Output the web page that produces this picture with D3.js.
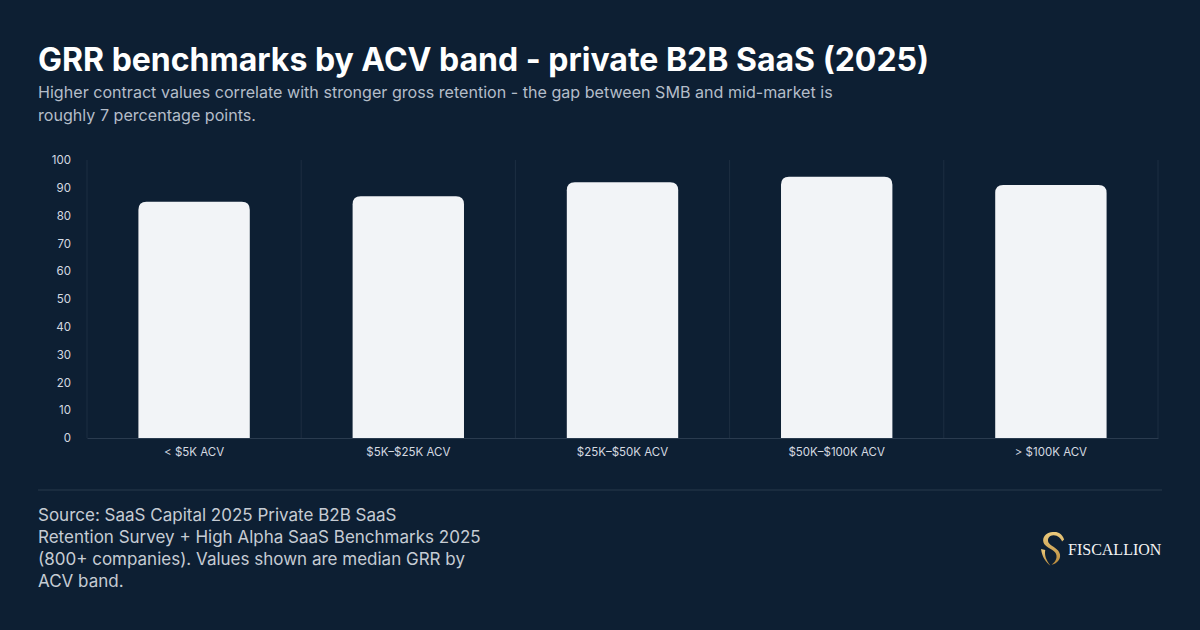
<!DOCTYPE html>
<html>
<head>
<meta charset="utf-8">
<script src="https://cdn.jsdelivr.net/npm/d3@7"></script>
<style>
  html, body { margin: 0; padding: 0; background: #0d1f33; }
  svg { display: block; font-family: Inter, "Noto Sans", sans-serif; }
</style>
</head>
<body>
<svg id="chart" width="1200" height="630"></svg>
<script>
// data
var bands = ["< $5K ACV", "$5K\u2013$25K ACV", "$25K\u2013$50K ACV", "$50K\u2013$100K ACV", "> $100K ACV"];
var grr = [85, 87, 92, 94, 91];
var yTicks = [0, 10, 20, 30, 40, 50, 60, 70, 80, 90, 100];

var title = "GRR benchmarks by ACV band - private B2B SaaS (2025)";
var subtitle = ["Higher contract values correlate with stronger gross retention - the gap between SMB and mid-market is",
                "roughly 7 percentage points."];
var source = ["Source: SaaS Capital 2025 Private B2B SaaS",
              "Retention Survey + High Alpha SaaS Benchmarks 2025",
              "(800+ companies). Values shown are median GRR by",
              "ACV band."];

var svg = d3.select("#chart");
var W = 1200, H = 630;

svg.append("rect").attr("width", W).attr("height", H).attr("fill", "#0d1f33");

// header
svg.append("text")
  .attr("x", 38).attr("y", 71)
  .attr("fill", "#ffffff")
  .attr("font-size", 32).attr("font-weight", 700)
  .text(title);

svg.selectAll("text.sub").data(subtitle).enter().append("text")
  .attr("class", "sub")
  .attr("x", 38).attr("y", function(d, i) { return 98 + i * 23; })
  .attr("fill", "#b4bdc9")
  .attr("font-size", 16.1)
  .text(function(d) { return d; });

// plot area
var plotL = 87, plotR = 1158, plotT = 160, plotB = 438;

var x = d3.scaleBand().domain(bands).range([plotL, plotR]).paddingInner(0.48).paddingOuter(0.24);
var y = d3.scaleLinear().domain([0, 100]).range([plotB, plotT]);

var g = svg.append("g");

// vertical separators between bands
var seps = d3.range(bands.length + 1).map(function(i) { return plotL + i * (plotR - plotL) / bands.length; });
g.selectAll("line.sep").data(seps).enter().append("line")
  .attr("class", "sep")
  .attr("x1", function(d) { return d; }).attr("x2", function(d) { return d; })
  .attr("y1", plotT).attr("y2", plotB)
  .attr("stroke", "#1d2e42").attr("stroke-width", 1);

// y axis
var yAxis = g.append("g")
  .attr("transform", "translate(" + plotL + ",0)")
  .call(d3.axisLeft(y).tickValues(yTicks).tickSize(0).tickPadding(16));
yAxis.select(".domain").remove();
yAxis.selectAll("text").attr("fill", "#d5dae1").attr("font-size", 11.5).attr("font-family", "Inter, sans-serif");

// bars with rounded tops
var r = 8;
function barPath(d, i) {
  var x0 = x(bands[i]), w = x.bandwidth(), y0 = y(d), y1 = y(0);
  return "M" + x0 + "," + y1 +
    "V" + (y0 + r) +
    "Q" + x0 + "," + y0 + " " + (x0 + r) + "," + y0 +
    "H" + (x0 + w - r) +
    "Q" + (x0 + w) + "," + y0 + " " + (x0 + w) + "," + (y0 + r) +
    "V" + y1 + "Z";
}
g.selectAll("path.bar").data(grr).enter().append("path")
  .attr("class", "bar")
  .attr("d", barPath)
  .attr("fill", "#f2f4f7");

// x axis
var xAxis = g.append("g")
  .attr("transform", "translate(0," + plotB + ")")
  .call(d3.axisBottom(x).tickSize(0).tickPadding(10));
xAxis.select(".domain").attr("stroke", "#2a3b4f");
xAxis.selectAll("text").attr("fill", "#d5dae1").attr("font-size", 11.5).attr("font-family", "Inter, sans-serif");

// footer
svg.append("line")
  .attr("x1", 38).attr("x2", 1162).attr("y1", 490).attr("y2", 490)
  .attr("stroke", "#1f3245").attr("stroke-width", 1.5);

svg.selectAll("text.src").data(source).enter().append("text")
  .attr("class", "src")
  .attr("x", 38).attr("y", function(d, i) { return 521 + i * 22; })
  .attr("fill", "#c6ccd4")
  .attr("font-size", 17)
  .text(function(d) { return d; });

// logo
var grad = svg.append("defs").append("linearGradient").attr("id", "gold")
  .attr("x1", 0).attr("y1", 0).attr("x2", 0).attr("y2", 1);
grad.append("stop").attr("offset", 0).attr("stop-color", "#ebca7d");
grad.append("stop").attr("offset", 1).attr("stop-color", "#b88a3c");
var logo = svg.append("g").attr("transform", "translate(1040,530) scale(1.05)");
logo.append("path")
  .attr("d", "M14,2 C8,1 3,5 3,10 C3,15 9,17 13,20 C17,23 17,29 11,33 C16,32 20,28 19,23 C18,18 12,16 9,13 C6,10 8,5 13,5 C17,5 20,8 21,11 L23,9 C21,4 18,2 14,2 Z")
  .attr("fill", "url(#gold)");
logo.append("path")
  .attr("d", "M1,18 C2,26 6,31 10,34 C6,29 4,24 5,19 Z")
  .attr("fill", "url(#gold)");
svg.append("text")
  .attr("x", 1068).attr("y", 555)
  .attr("fill", "#f4f4f4")
  .attr("font-family", "'Liberation Serif', 'DejaVu Serif', serif")
  .attr("font-size", 16)
  .text("FISCALLION");
</script>
</body>
</html>
